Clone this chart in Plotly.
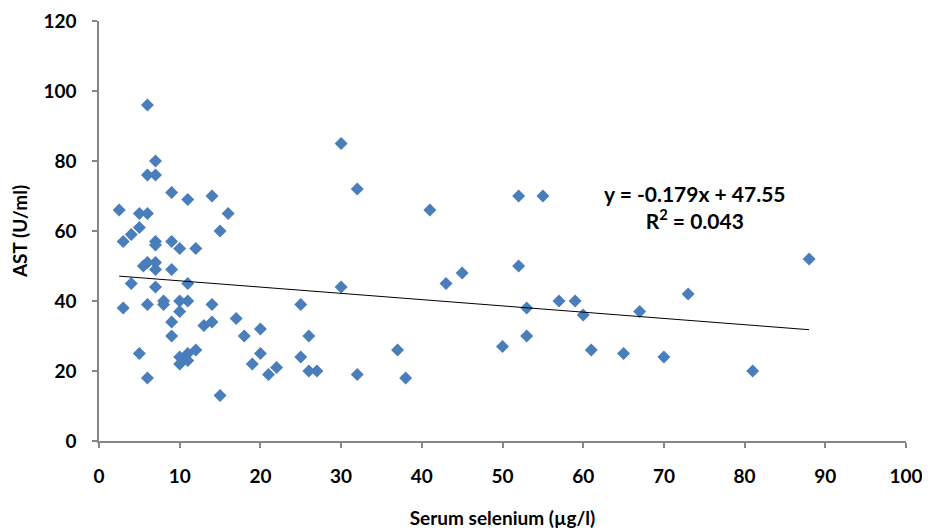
import plotly.graph_objects as go

# Serum selenium (µg/l)
selenium = [2.5, 3, 3, 4, 4, 5, 5, 5, 5.5, 6, 6, 6, 6, 6, 6, 7, 7, 7, 7, 7, 7, 7,
            8, 8, 9, 9, 9, 9, 9, 10, 10, 10, 10, 10, 11, 11, 11, 11, 11, 12, 12,
            13, 14, 14, 14, 15, 15, 16, 17, 18, 19, 20, 20, 21, 22, 25, 25, 26,
            26, 27, 30, 30, 32, 32, 37, 38, 41, 43, 45, 50, 52, 52, 53, 53, 55,
            57, 59, 60, 61, 65, 67, 70, 73, 81, 88]
# AST (U/ml)
ast = [66, 57, 38, 59, 45, 65, 61, 25, 50, 96, 76, 65, 51, 39, 18, 80, 76, 57, 56, 51, 49, 44,
       40, 39, 71, 57, 49, 34, 30, 55, 40, 37, 24, 22, 69, 45, 40, 25, 23, 55, 26,
       33, 70, 39, 34, 60, 13, 65, 35, 30, 22, 32, 25, 19, 21, 39, 24, 30,
       20, 20, 85, 44, 72, 19, 26, 18, 66, 45, 48, 27, 70, 50, 38, 30, 70,
       40, 40, 36, 26, 25, 37, 24, 42, 20, 52]

# Linear trendline as printed on the chart
slope = -0.179
intercept = 47.55
r_squared = 0.043

x_ticks = [0, 10, 20, 30, 40, 50, 60, 70, 80, 90, 100]
y_ticks = [0, 20, 40, 60, 80, 100, 120]

trend_x = [min(selenium), max(selenium)]
trend_y = [slope * v + intercept for v in trend_x]

FONT = "Lato"
BLUE = "#4A7EBB"
AXIS = "#868686"

fig = go.Figure()
fig.add_trace(go.Scatter(
    x=selenium, y=ast, mode="markers",
    marker=dict(symbol="diamond", size=10, color=BLUE, line=dict(width=0)),
    showlegend=False, hoverinfo="x+y",
))
fig.add_trace(go.Scatter(
    x=trend_x, y=trend_y, mode="lines",
    line=dict(color="black", width=1),
    showlegend=False, hoverinfo="skip",
))

fig.add_annotation(
    x=73.8, y=66.9, xref="x", yref="y",
    text=f"y = {slope}x + {intercept}<br>R<sup>2</sup> = {r_squared}",
    showarrow=False, align="center",
    font=dict(family=FONT, size=21, color="black", weight="bold"),
    xanchor="center", yanchor="middle",
)

fig.update_xaxes(
    range=[0, 100], tickvals=x_ticks, ticktext=[str(t) for t in x_ticks],
    showgrid=False, zeroline=False, showline=True, linecolor=AXIS, linewidth=1.5,
    ticks="outside", ticklen=5, tickcolor=AXIS, tickwidth=1.5,
    ticklabelstandoff=12, automargin=False,
    tickfont=dict(family=FONT, size=19, color="black", weight="bold"),
    title=dict(text="Serum selenium (µg/l)", standoff=29,
               font=dict(family=FONT, size=19, color="black", weight="bold")),
)
fig.update_yaxes(
    range=[0, 120], tickvals=y_ticks, ticktext=[str(t) for t in y_ticks],
    showgrid=False, zeroline=False, showline=True, linecolor=AXIS, linewidth=1.5,
    ticks="outside", ticklen=5, tickcolor=AXIS, tickwidth=1.5,
    ticklabelstandoff=12, automargin=False,
    tickfont=dict(family=FONT, size=19, color="black", weight="bold"),
    title=dict(text="AST (U/ml)", standoff=11,
               font=dict(family=FONT, size=19, color="black", weight="bold")),
)

# The page body adds an 8px offset, so the figure is sized to fit the window.
fig.update_layout(
    width=922, height=521,
    margin=dict(l=91, r=24, t=13, b=88, autoexpand=False),
    paper_bgcolor="white", plot_bgcolor="white",
    showlegend=False,
)

fig.write_html("out.html")
